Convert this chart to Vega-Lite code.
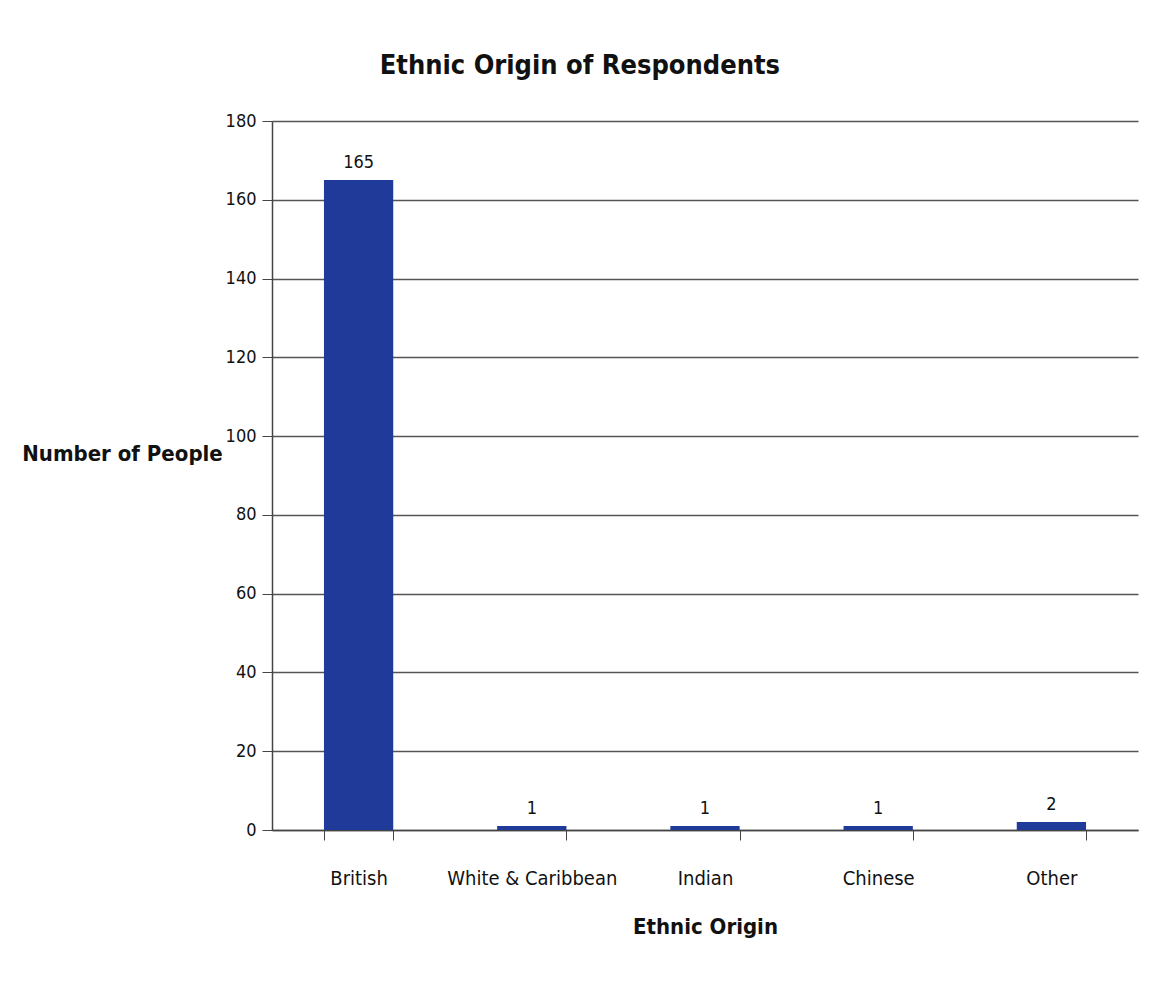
{
  "$schema": "https://vega.github.io/schema/vega-lite/v6.json",
  "width": 866,
  "height": 709,
  "autosize": "none",
  "padding": {"left": 272, "top": 121, "right": 21, "bottom": 156},
  "background": "#ffffff",
  "config": {
    "font": "Liberation Sans Narrow, DejaVu Sans Condensed, sans-serif",
    "view": {"stroke": null}
  },
  "title": {
    "text": "Ethnic Origin of Respondents",
    "fontSize": 27,
    "fontWeight": "bold",
    "color": "#111111",
    "anchor": "middle",
    "frame": "bounds",
    "offset": 32
  },
  "data": {
    "values": [
      {"origin": "British", "people": 165},
      {"origin": "White & Caribbean", "people": 1},
      {"origin": "Indian", "people": 1},
      {"origin": "Chinese", "people": 1},
      {"origin": "Other", "people": 2}
    ]
  },
  "encoding": {
    "x": {
      "field": "origin",
      "type": "nominal",
      "sort": null,
      "scale": {"paddingInner": 0.6, "paddingOuter": 0.3},
      "axis": {
        "title": "Ethnic Origin",
        "titleFontSize": 22,
        "titleFontWeight": "bold",
        "titleColor": "#111111",
        "titlePadding": 28,
        "labelAngle": 0,
        "labelFontSize": 20,
        "labelLimit": 0,
        "labelColor": "#111111",
        "labelPadding": 28,
        "tickBand": "extent",
        "tickSize": 10,
        "tickColor": "#444444",
        "domainColor": "#444444",
        "domainWidth": 1.5
      }
    },
    "y": {
      "field": "people",
      "type": "quantitative",
      "scale": {"domain": [0, 180], "nice": false},
      "axis": {
        "values": [0, 20, 40, 60, 80, 100, 120, 140, 160, 180],
        "title": "Number of People",
        "titleAngle": 0,
        "titleFontSize": 22,
        "titleFontWeight": "bold",
        "titleColor": "#111111",
        "titleAlign": "center",
        "titleBaseline": "middle",
        "titleX": -150,
        "titleY": 332,
        "labelFontSize": 18,
        "labelColor": "#111111",
        "labelPadding": 6,
        "tickSize": 10,
        "tickColor": "#444444",
        "domainColor": "#444444",
        "domainWidth": 1.5,
        "grid": true,
        "gridColor": "#555555",
        "gridWidth": 1.5
      }
    }
  },
  "layer": [
    {"mark": {"type": "bar", "color": "#1f3a98"}},
    {
      "mark": {"type": "text", "baseline": "bottom", "dy": -8, "fontSize": 18, "color": "#111111"},
      "encoding": {"text": {"field": "people", "type": "quantitative"}}
    }
  ]
}
